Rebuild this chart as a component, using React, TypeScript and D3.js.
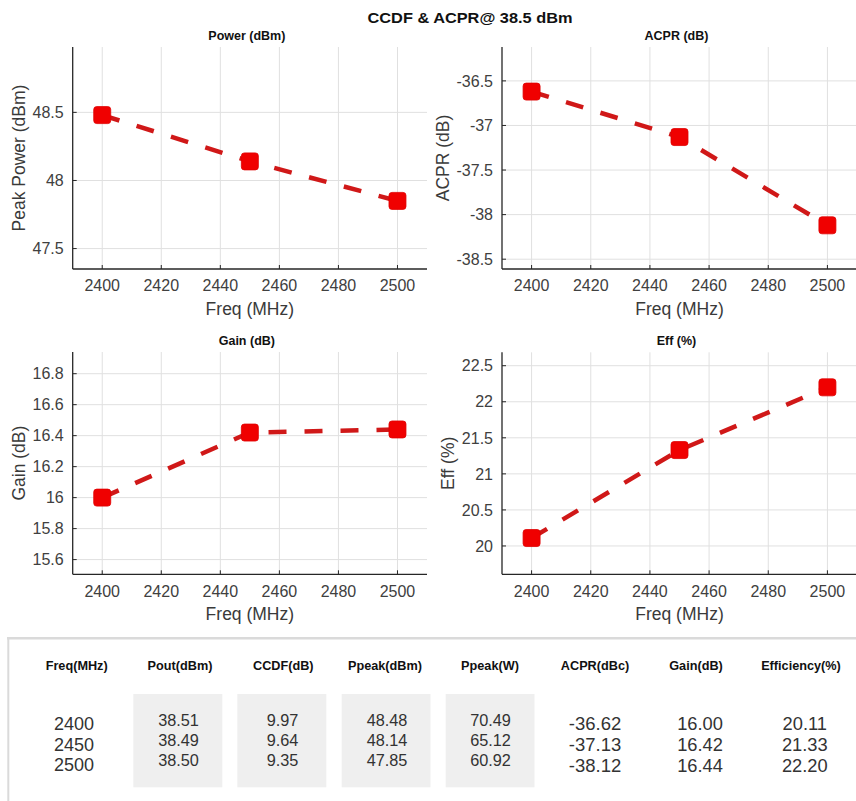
import React from "react";
import * as d3 from "d3";

// ---------- data ----------
const freqs = [2400, 2450, 2500];
const peakPower = [48.48, 48.14, 47.85];
const acpr = [-36.62, -37.13, -38.12];
const gain = [16.0, 16.42, 16.44];
const eff = [20.11, 21.33, 22.2];

const xTicks = [2400, 2420, 2440, 2460, 2480, 2500];
const powerTicks = [47.5, 48, 48.5];
const acprTicks = [-38.5, -38, -37.5, -37, -36.5];
const gainTicks = [15.6, 15.8, 16, 16.2, 16.4, 16.6, 16.8];
const effTicks = [20, 20.5, 21, 21.5, 22, 22.5];

const pout = [38.51, 38.49, 38.5];
const ccdf = [9.97, 9.64, 9.35];
const ppeakW = [70.49, 65.12, 60.92];

const tableHeaders = [
  "Freq(MHz)",
  "Pout(dBm)",
  "CCDF(dB)",
  "Ppeak(dBm)",
  "Ppeak(W)",
  "ACPR(dBc)",
  "Gain(dB)",
  "Efficiency(%)",
];

const mainTitle = "CCDF & ACPR@ 38.5 dBm";

// ---------- layout ----------
const W = 856;
const H = 801;
const FONT = "'Liberation Sans', Arial, Helvetica, sans-serif";
const LINE_COLOR = "#d01818";
const MARKER_COLOR = "#f00000";

type Panel = {
  title: string;
  ylabel: string;
  values: number[];
  yDomain: [number, number];
  yTicks: number[];
  left: number;
  right: number;
  top: number;
  bottom: number;
};

const panels: Panel[] = [
  { title: "Power (dBm)", ylabel: "Peak Power (dBm)", values: peakPower, yDomain: [47.35, 48.98], yTicks: powerTicks, left: 72.7, right: 427, top: 47, bottom: 269 },
  { title: "ACPR (dB)", ylabel: "ACPR (dB)", values: acpr, yDomain: [-38.61, -36.12], yTicks: acprTicks, left: 502, right: 857, top: 47, bottom: 269 },
  { title: "Gain (dB)", ylabel: "Gain (dB)", values: gain, yDomain: [15.505, 16.94], yTicks: gainTicks, left: 72.7, right: 427, top: 352, bottom: 574.3 },
  { title: "Eff (%)", ylabel: "Eff (%)", values: eff, yDomain: [19.607, 22.686], yTicks: effTicks, left: 502, right: 857, top: 352.3, bottom: 574.3 },
];

const fmtTick = (v: number) => String(+v.toFixed(2));

function textWidth(s: string, size: number) {
  let w = 0;
  for (const c of s) {
    if (c === ".") w += 0.278;
    else if (c === "-") w += 0.333;
    else w += 0.556;
  }
  return w * size;
}

function PlotPanel({ p }: { p: Panel }) {
  const x = d3.scaleLinear().domain([2390, 2510]).range([p.left, p.right]);
  const y = d3.scaleLinear().domain(p.yDomain).range([p.bottom, p.top]);
  const pts = freqs.map((f, i) => [f, p.values[i]] as [number, number]);
  const line = d3
    .line<[number, number]>()
    .x((d) => x(d[0]))
    .y((d) => y(d[1]));
  const tickFs = 16;
  const maxTickW = d3.max(p.yTicks, (t) => textWidth(fmtTick(t), tickFs)) || 0;
  const ylabelX = p.left - 9 - maxTickW - 14;
  const cy = (p.top + p.bottom) / 2;
  const cx = (p.left + p.right) / 2 - 3;
  return (
    <g>
      {xTicks.map((t) => (
        <line key={"gx" + t} x1={x(t)} x2={x(t)} y1={p.top} y2={p.bottom} stroke="#e0e0e0" strokeWidth={1} />
      ))}
      {p.yTicks.map((t) => (
        <line key={"gy" + t} x1={p.left} x2={p.right} y1={y(t)} y2={y(t)} stroke="#e0e0e0" strokeWidth={1} />
      ))}
      <line x1={p.left} x2={p.left} y1={p.top} y2={p.bottom} stroke="#262626" strokeWidth={1.3} />
      <line x1={p.left} x2={p.right} y1={p.bottom} y2={p.bottom} stroke="#262626" strokeWidth={1.3} />
      {xTicks.map((t) => (
        <line key={"tx" + t} x1={x(t)} x2={x(t)} y1={p.bottom} y2={p.bottom - 4} stroke="#262626" strokeWidth={1} />
      ))}
      {p.yTicks.map((t) => (
        <line key={"ty" + t} x1={p.left} x2={p.left + 4} y1={y(t)} y2={y(t)} stroke="#262626" strokeWidth={1} />
      ))}
      {xTicks.map((t) => (
        <text key={"lx" + t} x={x(t)} y={p.bottom + 22.2} textAnchor="middle" fontSize={tickFs} fill="#404040" fontFamily={FONT}>
          {fmtTick(t)}
        </text>
      ))}
      {p.yTicks.map((t) => (
        <text key={"ly" + t} x={p.left - 9} y={y(t) + 5.7} textAnchor="end" fontSize={tickFs} fill="#404040" fontFamily={FONT}>
          {fmtTick(t)}
        </text>
      ))}
      <text x={cx + 3} y={p.bottom + 45.5} textAnchor="middle" fontSize={17.5} fill="#3a3a3a" fontFamily={FONT}>
        Freq (MHz)
      </text>
      <text
        transform={`translate(${ylabelX + 6.3},${cy}) rotate(-90)`}
        textAnchor="middle"
        fontSize={17.5}
        fill="#3a3a3a"
        fontFamily={FONT}
      >
        {p.ylabel}
      </text>
      <text x={cx} y={p.top - 7.5} textAnchor="middle" fontSize={12.5} fontWeight="bold" fill="#111" fontFamily={FONT}>
        {p.title}
      </text>
      <path d={line(pts) || ""} fill="none" stroke={LINE_COLOR} strokeWidth={4.5} strokeDasharray="18,18" />
      {pts.map((d, i) => (
        <rect
          key={"m" + i}
          x={x(d[0]) - 8.5}
          y={y(d[1]) - 8.5}
          width={17}
          height={17}
          rx={3}
          fill={MARKER_COLOR}
          stroke="#e00000"
          strokeWidth={0.8}
        />
      ))}
    </g>
  );
}

type Col = {
  header: string;
  values: number[];
  cx: number;
  box?: [number, number];
  fs: number;
  y0: number;
  dy: number;
  isInt?: boolean;
};

export default function App() {
  const cols: Col[] = [
    { header: tableHeaders[0], values: freqs, cx: 74, fs: 18, y0: 729.7, dy: 20.8, isInt: true },
    { header: tableHeaders[1], values: pout, cx: 178.5, box: [133.3, 222.3], fs: 16.3, y0: 726.4, dy: 19.6 },
    { header: tableHeaders[2], values: ccdf, cx: 282.5, box: [237.3, 326.3], fs: 16.3, y0: 726.4, dy: 19.6 },
    { header: tableHeaders[3], values: peakPower, cx: 387, box: [341.7, 430.5], fs: 16.3, y0: 726.4, dy: 19.6 },
    { header: tableHeaders[4], values: ppeakW, cx: 490.5, box: [445.7, 534.5], fs: 16.3, y0: 726.4, dy: 19.6 },
    { header: tableHeaders[5], values: acpr, cx: 595, fs: 18.5, y0: 730.4, dy: 21 },
    { header: tableHeaders[6], values: gain, cx: 700, fs: 18.3, y0: 730.4, dy: 21 },
    { header: tableHeaders[7], values: eff, cx: 804.8, fs: 18.3, y0: 730.4, dy: 21 },
  ];
  const headerCx = [76.7, 180, 283.3, 385, 490, 595, 696, 801];

  return (
    <svg
      width={W}
      height={H}
      viewBox={`0 0 ${W} ${H}`}
      style={{ position: "absolute", left: 0, top: 0, background: "#fff" }}
    >
      <rect x={0} y={0} width={W} height={H} fill="#fff" />
      <text x={470} y={22.5} textAnchor="middle" fontSize={15.5} fontWeight="bold" fill="#111" fontFamily={FONT} textLength={205} lengthAdjust="spacingAndGlyphs">
        {mainTitle}
      </text>
      {panels.map((p) => (
        <PlotPanel key={p.title} p={p} />
      ))}

      <line x1={7} x2={W} y1={638.3} y2={638.3} stroke="#dadada" strokeWidth={2.5} />
      <line x1={8.3} x2={8.3} y1={638} y2={H} stroke="#dadada" strokeWidth={2} />

      {cols.map((c, i) => (
        <g key={c.header}>
          {c.box && (
            <rect x={c.box[0]} y={694} width={c.box[1] - c.box[0]} height={93.3} fill="#efefef" />
          )}
          <text x={headerCx[i]} y={669.8} textAnchor="middle" fontSize={12.7} fontWeight="bold" fill="#111" fontFamily={FONT}>
            {c.header}
          </text>
          {c.values.map((v, j) => (
            <text key={j} x={c.cx} y={c.y0 + j * c.dy} textAnchor="middle" fontSize={c.fs} fill="#333" fontFamily={FONT}>
              {c.isInt ? String(v) : v.toFixed(2)}
            </text>
          ))}
        </g>
      ))}
    </svg>
  );
}
